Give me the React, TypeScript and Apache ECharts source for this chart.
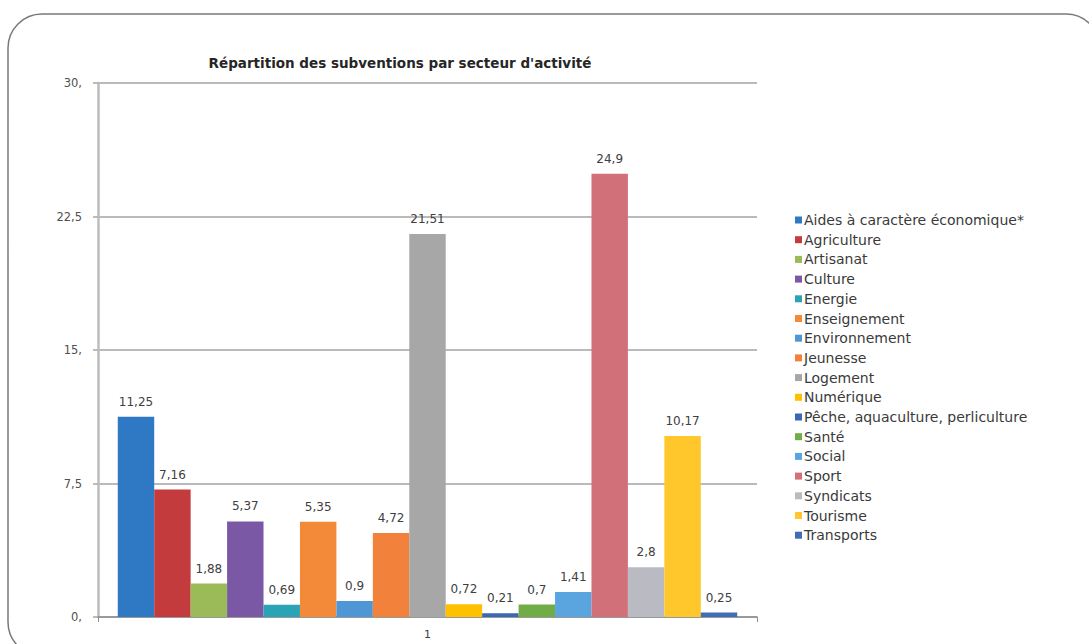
import React, { useEffect, useRef } from "react";
import * as echarts from "echarts";

const title = "Répartition des subventions par secteur d'activité";
const categories = ["1"];
const sectors = [
  "Aides à caractère économique*",
  "Agriculture",
  "Artisanat",
  "Culture",
  "Energie",
  "Enseignement",
  "Environnement",
  "Jeunesse",
  "Logement",
  "Numérique",
  "Pêche, aquaculture, perliculture",
  "Santé",
  "Social",
  "Sport",
  "Syndicats",
  "Tourisme",
  "Transports",
];
const values = [11.25, 7.16, 1.88, 5.37, 0.69, 5.35, 0.9, 4.72, 21.51, 0.72, 0.21, 0.7, 1.41, 24.9, 2.8, 10.17, 0.25];
const colors = [
  "#2F78C4", "#C33B3D", "#9BBB59", "#7B58A6", "#2BA3B6", "#F38A3A",
  "#4E97D4", "#F2813C", "#A7A7A7", "#FFC000", "#3B68B4", "#70AD47",
  "#5AA5E0", "#D2707A", "#B9BAC2", "#FFC72C", "#416EB3",
];
const yTicks = ["0,", "7,5", "15,", "22,5", "30,"];

const fmt = (v: number) => String(v).replace(".", ",");

export default function App() {
  const ref = useRef<HTMLDivElement>(null);
  useEffect(() => {
    document.body.style.margin = "0";
    const chart = echarts.init(ref.current!, null, { renderer: "svg" });
    const font = "'DejaVu Sans', Verdana, sans-serif";
    chart.setOption({
      animation: false,
      backgroundColor: "#ffffff",
      color: colors,
      title: {
        text: title,
        left: 395,
        top: 51,
        textAlign: "center",
        textStyle: { fontFamily: font, fontSize: 13.5, fontWeight: "bold", color: "#262626" },
      },
      graphic: [
        {
          type: "rect",
          shape: { x: 8, y: 14, width: 1092, height: 642, r: 34 },
          style: { fill: "none", stroke: "#7a7a7a", lineWidth: 1.5 },
          silent: true,
          z: 10,
        },
      ],
      legend: {
        orient: "vertical",
        left: 790,
        top: 208,
        itemWidth: 7,
        itemHeight: 7,
        itemGap: 5.7,
        icon: "rect",
        textStyle: { fontFamily: font, fontSize: 14, color: "#3a3a3a", lineHeight: 14, padding: [0, 0, 0, -3] },
        data: sectors,
      },
      grid: { left: 98, right: 332, top: 83, bottom: 27, containLabel: false },
      xAxis: {
        type: "category",
        data: categories,
        axisLine: { show: true, lineStyle: { color: "#8e8e8e", width: 1.5 } },
        axisTick: { show: true, alignWithLabel: false, length: 5, lineStyle: { color: "#8e8e8e" } },
        axisLabel: { fontFamily: font, fontSize: 11, color: "#404040", margin: 12 },
      },
      yAxis: {
        type: "value",
        min: 0,
        max: 30,
        interval: 7.5,
        axisLine: { show: true, lineStyle: { color: "#bdbdbd", width: 2.5 } },
        axisTick: { show: true, length: 5, lineStyle: { color: "#a6a6a6", width: 1.5 } },
        splitLine: { show: true, lineStyle: { color: "#a3a3a3", width: 1.5 } },
        axisLabel: {
          fontFamily: font,
          fontSize: 11.5,
          color: "#505050",
          margin: 16,
          formatter: (v: number) => yTicks[Math.round(v / 7.5)] ?? fmt(v),
        },
      },
      series: sectors.map((name, i) => ({
        name,
        type: "bar",
        data: [values[i]],
        barGap: "0%",
        barCategoryGap: "6%",
        itemStyle: { color: colors[i] },
        label: {
          show: true,
          position: "top",
          distance: 9,
          fontFamily: font,
          fontSize: 12,
          color: "#404040",
          formatter: (p: any) => fmt(p.value),
        },
      })),
    });
    return () => chart.dispose();
  }, []);
  return <div ref={ref} style={{ width: 1089, height: 644 }} />;
}
